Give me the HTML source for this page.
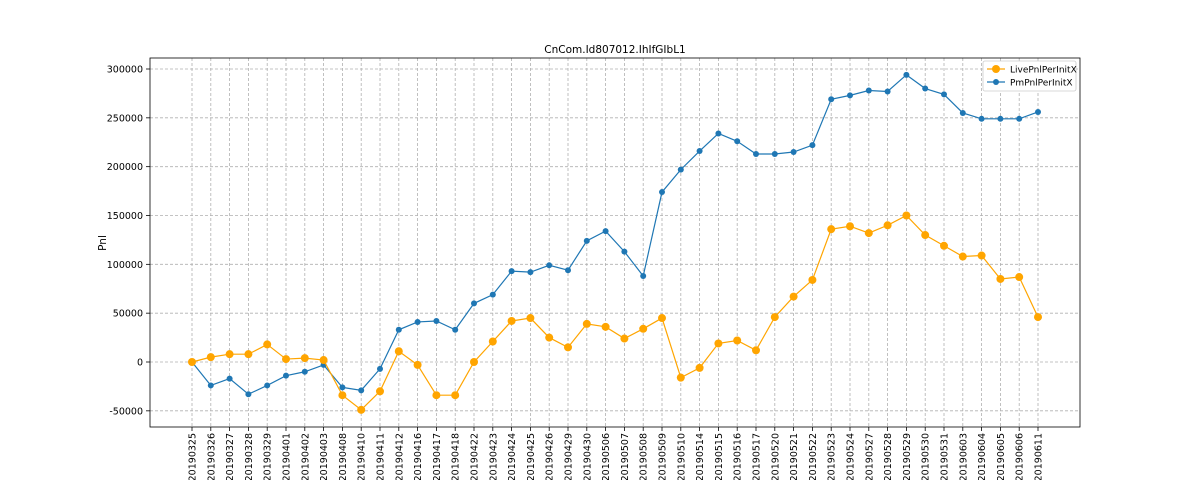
<!DOCTYPE html>
<html><head><meta charset="utf-8"><style>
html,body{margin:0;padding:0;background:#fff;}
svg{display:block;font-family:"DejaVu Sans","Liberation Sans",sans-serif;}
</style></head><body>
<svg id="chart" width="1200" height="480"></svg>
<script>
const categories=["20190325","20190326","20190327","20190328","20190329","20190401","20190402","20190403","20190408","20190410","20190411","20190412","20190416","20190417","20190418","20190422","20190423","20190424","20190425","20190426","20190429","20190430","20190506","20190507","20190508","20190509","20190510","20190514","20190515","20190516","20190517","20190520","20190521","20190522","20190523","20190524","20190527","20190528","20190529","20190530","20190531","20190603","20190604","20190605","20190606","20190611"];
const liveValues=[0,5000,8000,8000,18000,3000,4000,2000,-34000,-49000,-30000,11000,-3000,-34000,-34000,0,21000,42000,45000,25000,15000,39000,36000,24000,34000,45000,-16000,-6000,19000,22000,12000,46000,67000,84000,136000,139000,132000,140000,150000,130000,119000,108000,109000,85000,87000,46000];
const pmValues=[0,-24000,-17000,-33000,-24000,-14000,-10000,-3000,-26000,-29000,-7000,33000,41000,42000,33000,60000,69000,93000,92000,99000,94000,124000,134000,113000,88000,174000,197000,216000,234000,226000,213000,213000,215000,222000,269000,273000,278000,277000,294000,280000,274000,255000,249000,249000,249000,256000];
const yTicks=[-50000,0,50000,100000,150000,200000,250000,300000];
const L=150,R=1080,T=58,B=427;
const ns="http://www.w3.org/2000/svg";
const svg=document.getElementById('chart');
function X(i){return 192+i*(1038-192)/(categories.length-1);}
function Y(v){return 362-v*293/300000;}
function mk(tag,attrs,parent){const e=document.createElementNS(ns,tag);for(const k in attrs)e.setAttribute(k,attrs[k]);(parent||svg).appendChild(e);return e;}
// grid
categories.forEach((c,i)=>{
 const g=mk('line',{x1:X(i),x2:X(i),y1:T,y2:B,stroke:'#b0b0b0','stroke-width':0.8,'stroke-dasharray':'3,2'});
 
 
 mk('line',{x1:X(i),x2:X(i),y1:B,y2:B+4,stroke:'#000','stroke-width':0.8});
 const t=mk('text',{transform:`translate(${X(i)+3.5},${B+6}) rotate(-90)`,'text-anchor':'end','font-size':'9.5',fill:'#000'});
 t.textContent=c;
 
 
});
yTicks.forEach(v=>{
 const g=mk('line',{x1:L,x2:R,y1:Y(v),y2:Y(v),stroke:'#b0b0b0','stroke-width':0.8,'stroke-dasharray':'3,2'});
 
 
 mk('line',{x1:L-4,x2:L,y1:Y(v),y2:Y(v),stroke:'#000','stroke-width':0.8});
 const t=mk('text',{x:L-7,y:Y(v)+3.5,'text-anchor':'end','font-size':'9.5',fill:'#000'});
 t.textContent=v;
 
 
});
function series(vals,color,r,name){
 const p=mk('polyline',{points:vals.map((v,i)=>X(i)+','+Y(v)).join(' '),fill:'none',stroke:color,'stroke-width':1.2});
 
 
 vals.forEach((v,i)=>{
  const c=mk('circle',{cx:X(i),cy:Y(v),r:r,fill:color});
  
  
 });
}
series(pmValues,'#1f77b4',3,'pm-pnl');
series(liveValues,'#ffa500',4,'live-pnl');
const fr=mk('rect',{x:L,y:T,width:R-L,height:B-T,fill:'none',stroke:'#000','stroke-width':0.8});


const ti=mk('text',{x:615,y:53,'text-anchor':'middle','font-size':'10.5'});ti.textContent='CnCom.Id807012.IhIfGIbL1';


const yl=mk('text',{transform:'translate(106,243) rotate(-90)','text-anchor':'middle','font-size':'10.5'});yl.textContent='Pnl';


// legend
const lg=mk('g',{});


mk('rect',{x:983,y:61,width:93,height:30,rx:2,fill:'#fff',stroke:'#ccc','stroke-width':0.8},lg);
[['LivePnlPerInitX','#ffa500',4,69],['PmPnlPerInitX','#1f77b4',3,82]].forEach(([n,c,r,y])=>{
 mk('line',{x1:987,x2:1005,y1:y,y2:y,stroke:c,'stroke-width':1.2},lg);
 mk('circle',{cx:996,cy:y,r:r,fill:c},lg);
 const t=mk('text',{x:1010,y:y+3.5,'font-size':'9',fill:'#000'},lg);t.textContent=n;
 
 
});
</script>
</body></html>
